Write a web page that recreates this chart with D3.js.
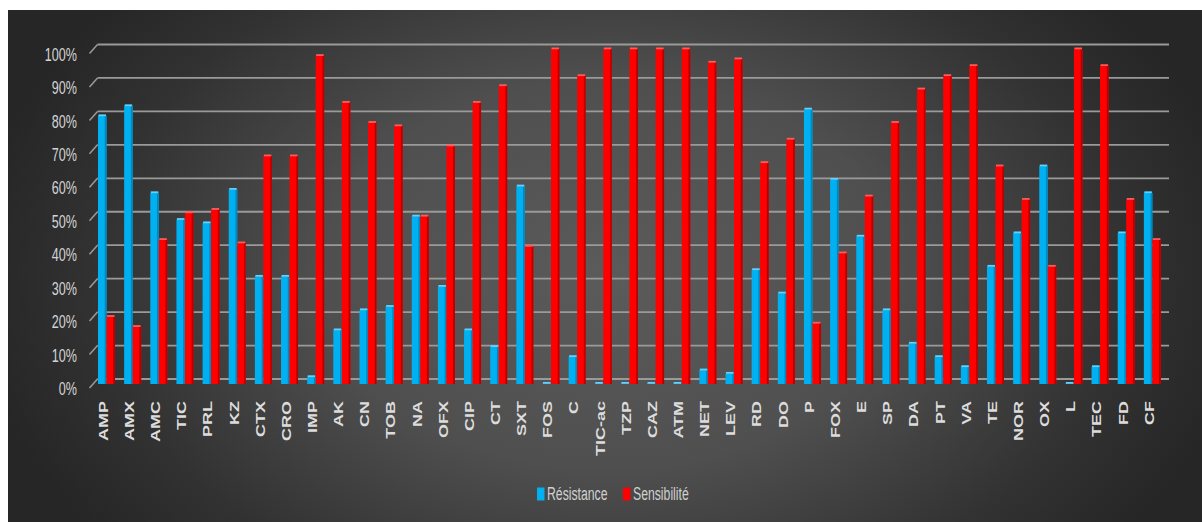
<!DOCTYPE html>
<html>
<head>
<meta charset="utf-8">
<script src="https://cdn.jsdelivr.net/npm/d3@7"></script>
<style>
  html, body { margin: 0; padding: 0; background: #fff; }
  svg { display: block; }
</style>
</head>
<body>
<script>
var categories = ["AMP", "AMX", "AMC", "TIC", "PRL", "KZ", "CTX", "CRO", "IMP", "AK", "CN", "TOB", "NA", "OFX", "CIP", "CT", "SXT", "FOS", "C", "TIC-ac", "TZP", "CAZ", "ATM", "NET", "LEV", "RD", "DO", "P", "FOX", "E", "SP", "DA", "PT", "VA", "TE", "NOR", "OX", "L", "TEC", "FD", "CF"];
var resistance = [80, 83, 57, 49, 48, 58, 32, 32, 2, 16, 22, 23, 50, 29, 16, 11, 59, 0, 8, 0, 0, 0, 0, 4, 3, 34, 27, 82, 61, 44, 22, 12, 8, 5, 35, 45, 65, 0, 5, 45, 57];
var sensibilite = [20, 17, 43, 51, 52, 42, 68, 68, 98, 84, 78, 77, 50, 71, 84, 89, 41, 100, 92, 100, 100, 100, 100, 96, 97, 66, 73, 18, 39, 56, 78, 88, 92, 95, 65, 55, 35, 100, 95, 55, 43];
var seriesNames = ["Résistance", "Sensibilité"];
var yTicks = [0, 10, 20, 30, 40, 50, 60, 70, 80, 90, 100];

var width = 1202;
var height = 522;
var colors = { "Résistance": "#00b0f0", "Sensibilité": "#ff0000" };
var sides = { "Résistance": "#0089c0", "Sensibilité": "#b80000" };
var caps = { "Résistance": "#5fd2ff", "Sensibilité": "#ff5a5a" };

var rows = categories.map(function (c, i) {
    return { cat: c, values: [
        { key: seriesNames[0], v: resistance[i] },
        { key: seriesNames[1], v: sensibilite[i] }
    ] };
});

var svg = d3.select("body").append("svg").attr("width", width).attr("height", height);

var defs = svg.append("defs");
var grad = defs.append("radialGradient").attr("id", "bg")
    .attr("gradientUnits", "userSpaceOnUse")
    .attr("cx", 0).attr("cy", 0).attr("r", 1)
    .attr("gradientTransform", "translate(610,275) scale(640,430)");
grad.append("stop").attr("offset", "0").attr("stop-color", "#5b5b5b");
grad.append("stop").attr("offset", "0.45").attr("stop-color", "#4f4f4f");
grad.append("stop").attr("offset", "0.8").attr("stop-color", "#323232");
grad.append("stop").attr("offset", "1").attr("stop-color", "#262626");

svg.append("rect").attr("x", 8).attr("y", 10).attr("width", width - 8).attr("height", height - 10).attr("fill", "url(#bg)");

var x0 = d3.scaleBand().domain(categories).range([97, 1169]).padding(0);
var x1 = d3.scaleBand().domain(seriesNames).range([1, 18]).padding(0);
var y = d3.scaleLinear().domain([0, 100]).range([383.5, 49]);

// back wall gridlines + slanted floor ticks
var grid = svg.append("g").attr("class", "grid");
grid.selectAll("line.h").data(yTicks).enter().append("line").attr("class", "h")
    .attr("x1", 97.5).attr("x2", 1169)
    .attr("y1", function (d) { return y(d) - 4.5; })
    .attr("y2", function (d) { return y(d) - 4.5; })
    .attr("stroke", "#9a9a9a").attr("stroke-width", 1.8);
grid.selectAll("line.s").data(yTicks).enter().append("line").attr("class", "s")
    .attr("x1", 89.5).attr("x2", 97.5)
    .attr("y1", function (d) { return y(d) + 4.5; })
    .attr("y2", function (d) { return y(d) - 4.5; })
    .attr("stroke", "#9a9a9a").attr("stroke-width", 1.5);

// y labels
svg.append("g").selectAll("text").data(yTicks).enter().append("text")
    .attr("transform", function (d) { return "translate(77," + (y(d) + 5) + ") scale(0.68,1)"; })
    .attr("text-anchor", "end").attr("dy", "0.36em")
    .attr("font-family", "Liberation Sans, Arial, sans-serif").attr("font-size", 18.5)
    .attr("fill", "#d4d4d4")
    .text(function (d) { return d + "%"; });

// bars
var groups = svg.append("g").selectAll("g").data(rows).enter().append("g")
    .attr("transform", function (d) { return "translate(" + x0(d.cat) + ",0)"; });

var bars = groups.selectAll("g").data(function (d) { return d.values; }).enter().append("g");
bars.append("rect")
    .attr("x", function (d) { return x1(d.key); })
    .attr("y", function (d) { return y(d.v); })
    .attr("width", x1.bandwidth())
    .attr("height", function (d) { return y(0) - y(d.v) + 0.5; })
    .attr("fill", function (d) { return colors[d.key]; });
bars.append("rect")
    .attr("x", function (d) { return x1(d.key) + x1.bandwidth() - 1.8; })
    .attr("y", function (d) { return y(d.v); })
    .attr("width", 1.8)
    .attr("height", function (d) { return y(0) - y(d.v) + 0.5; })
    .attr("fill", function (d) { return sides[d.key]; });
bars.append("rect")
    .attr("x", function (d) { return x1(d.key) + 0.5; })
    .attr("y", function (d) { return y(d.v) - 1.5; })
    .attr("width", x1.bandwidth() - 1)
    .attr("height", 1.8)
    .attr("fill", function (d) { return caps[d.key]; });

// x labels
svg.append("g").selectAll("text").data(categories).enter().append("text")
    .attr("transform", function (d) { return "translate(" + (x0(d) + 6.3) + ",401) rotate(-90) scale(1,0.7)"; })
    .attr("text-anchor", "end").attr("dy", "0.36em")
    .attr("font-family", "Liberation Sans, Arial, sans-serif").attr("font-size", 18).attr("font-weight", "bold")
    .attr("fill", "#dcdcdc")
    .text(function (d) { return d; });

// legend
var legend = svg.append("g").attr("transform", "translate(537,494)");
var lx = [0, 86];
var item = legend.selectAll("g").data(seriesNames).enter().append("g")
    .attr("transform", function (d, i) { return "translate(" + lx[i] + ",0)"; });
item.append("rect").attr("x", 0).attr("y", -6.5).attr("width", 7.5).attr("height", 13)
    .attr("fill", function (d) { return colors[d]; });
item.append("text")
    .attr("transform", "translate(10,0) scale(0.68,1)")
    .attr("dy", "0.36em")
    .attr("font-family", "Liberation Sans, Arial, sans-serif").attr("font-size", 18)
    .attr("fill", "#d0d0d0")
    .text(function (d) { return d; });
</script>
</body>
</html>
